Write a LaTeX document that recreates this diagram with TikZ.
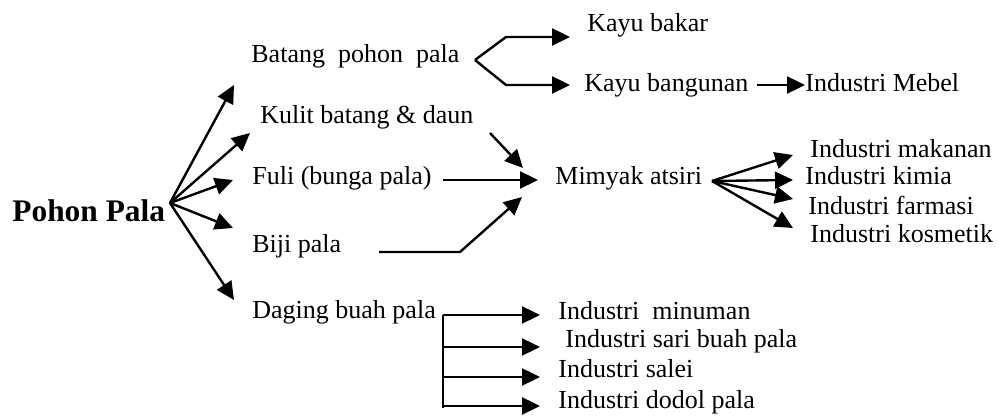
\documentclass[tikz,border=0pt]{standalone}
\usepackage{fontspec}
\setmainfont{Liberation Serif}
\usetikzlibrary{arrows.meta}
\tikzset{
  lbl/.style={anchor=base west, inner sep=0pt, font=\fontsize{13}{15}\selectfont},
  arr/.style={-{Triangle[length=9pt,width=8.5pt]}, line width=1.2pt},
  ln/.style={line width=1.2pt}
}
\begin{document}
\begin{tikzpicture}[x=0.5pt, y=-0.5pt]
\useasboundingbox (0,0) rectangle (998,416);
% left column
\node[lbl, font=\bfseries\fontsize{15.7}{18}\selectfont] (pohon) at (12,222) {Pohon Pala};
\node[lbl] (batang) at (251,63) {Batang\ \ pohon\ \ pala};
\node[lbl] (kulit) at (260,124) {Kulit batang \& daun};
\node[lbl] (fuli) at (252,185) {Fuli (bunga pala)};
\node[lbl] (biji) at (252,253) {Biji pala};
\node[lbl] (daging) at (252,319) {Daging buah pala};
% right side
\node[lbl] (kayubakar) at (587,32) {Kayu bakar};
\node[lbl] (kayubangunan) at (584,92) {Kayu bangunan};
\node[lbl] (mebel) at (805,92) {Industri Mebel};
\node[lbl] (minyak) at (555,185) {Mimyak atsiri};
\node[lbl] (makanan) at (810,158) {Industri makanan};
\node[lbl] (kimia) at (805,185) {Industri kimia};
\node[lbl] (farmasi) at (808,215) {Industri farmasi};
\node[lbl] (kosmetik) at (810,243) {Industri kosmetik};
\node[lbl] (minuman) at (558,320) {Industri\ \ minuman};
\node[lbl] (sari) at (565,348) {Industri sari buah pala};
\node[lbl] (salei) at (558,378) {Industri salei};
\node[lbl] (dodol) at (558,409) {Industri dodol pala};
% fan from Pohon Pala
\coordinate (hub) at (170,203);
\draw[arr] (hub) -- (234,85);
\draw[arr] (hub) -- (250,133);
\draw[arr] (hub) -- (233,180);
\draw[arr] (hub) -- (233,228);
\draw[arr] (hub) -- (234,300);
% batang
\coordinate (fork) at (475,60);
\draw[arr] (fork) -- (506,37) -- (570,37);
\draw[arr] (fork) -- (506,85) -- (570,85);
\draw[arr] (757,85) -- (mebel.west |- 0,85);
% into minyak
\draw[arr] (490,133) -- (523,168);
\draw[arr] (443,180) -- (538,180);
\draw[arr] (379,252) -- (460,252) -- (522,197);
% out of minyak
\coordinate (hub2) at (712,181);
\draw[arr] (hub2) -- (793,155);
\draw[arr] (hub2) -- (793,180);
\draw[arr] (hub2) -- (793,199);
\draw[arr] (hub2) -- (793,228);
% daging
\draw[ln] (443,315) -- (443,408);
\draw[arr] (443,315) -- (540,315);
\draw[arr] (443,347) -- (540,347);
\draw[arr] (443,377) -- (540,377);
\draw[arr] (443,406) -- (540,406);
\end{tikzpicture}
\end{document}
